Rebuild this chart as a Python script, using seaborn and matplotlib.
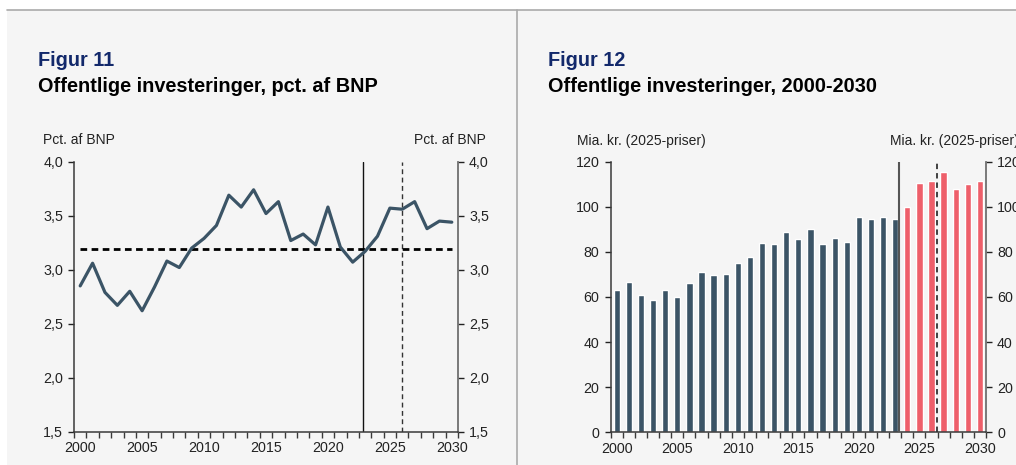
import numpy as np
import pandas as pd
import seaborn as sns
import matplotlib
matplotlib.use('Agg')
import matplotlib.pyplot as plt
from matplotlib.ticker import FixedLocator, FuncFormatter, NullLocator
from matplotlib.patches import Rectangle
from matplotlib.lines import Line2D

# --- data ---
years = list(range(2000, 2031))
share_of_gdp = [2.85, 3.06, 2.79, 2.67, 2.80, 2.62, 2.84, 3.08, 3.02, 3.20,
                3.29, 3.41, 3.69, 3.58, 3.74, 3.52, 3.63, 3.27, 3.33, 3.23,
                3.58, 3.21, 3.07, 3.17, 3.31, 3.57, 3.56, 3.63, 3.38, 3.45,
                3.44]
avg_share = 3.19
invest_bn = [62.9, 66.6, 60.9, 58.8, 63.1, 59.8, 66.1, 71.2, 69.6, 70.2,
             74.9, 77.7, 84.1, 83.5, 88.8, 85.7, 90.1, 83.5, 86.3, 84.5,
             95.5, 94.6, 95.5, 94.6, 99.9, 110.7, 111.4, 115.4, 107.9, 110.1,
             111.4]
period = ['hist'] * 24 + ['prog'] * 7
x_labels = [2000, 2005, 2010, 2015, 2020, 2025, 2030]

NAVY = '#13296b'
SLATE = '#3b5466'
RED = '#ee5f6a'
BG = '#f5f5f5'

sns.set_theme(style='white')
plt.rcParams['font.family'] = ['Liberation Sans', 'DejaVu Sans']
plt.rcParams['axes.facecolor'] = BG

W, H = 1016, 465
fig = plt.figure(figsize=(W / 100, H / 100), dpi=100, facecolor='white')


def fx(px):
    return px / W


def fy(py):
    return 1 - py / H


# panel background and frame lines (behind the axes)
fig.add_artist(Rectangle((fx(7), 0), 1 - fx(7), fy(10.3), transform=fig.transFigure,
                         facecolor=BG, edgecolor='none', zorder=-10))
fig.add_artist(Line2D([fx(7), 1], [fy(10.3), fy(10.3)], transform=fig.transFigure,
                      color='#aaaaaa', lw=1.2, zorder=-5))
fig.add_artist(Line2D([fx(517.3), fx(517.3)], [0, fy(10.3)], transform=fig.transFigure,
                      color='#aaaaaa', lw=1.2, zorder=-5))


def style_axis(ax, ylim, yticks, fmt):
    ax.set_facecolor(BG)
    ax.set_xlim(1999.5, 2030.5)
    ax.set_ylim(*ylim)
    ax.xaxis.set_major_locator(FixedLocator(x_labels))
    ax.xaxis.set_minor_locator(FixedLocator(np.arange(1999.5, 2031, 1.0)))
    ax.yaxis.set_major_locator(FixedLocator(yticks))
    ax.yaxis.set_minor_locator(NullLocator())
    ax.yaxis.set_major_formatter(FuncFormatter(fmt))
    ax.set_xlabel('')
    ax.set_ylabel('')
    ax.spines['top'].set_visible(False)
    for s in ['left', 'bottom']:
        ax.spines[s].set_color('#3a3a3a')
        ax.spines[s].set_linewidth(1.1)
    ax.spines['right'].set_color('#707070')
    ax.spines['right'].set_linewidth(1.3)
    ax.tick_params(axis='x', which='major', length=0, pad=7, labelsize=10.3, colors='#222222')
    ax.tick_params(axis='x', which='minor', length=4.5, width=1, color='#3a3a3a', bottom=True)
    ax.tick_params(axis='y', which='major', length=4, width=1, left=True, right=True,
                   labelleft=True, labelright=True, labelsize=10.3, colors='#222222', pad=4)
    for t in ax.yaxis.get_major_ticks():
        t.tick1line.set_color('#3a3a3a')
        t.tick2line.set_color('#707070')
    ax.xaxis.set_major_formatter(FuncFormatter(lambda v, p: f'{int(round(v))}'))


# --- Figur 11 ---
ax1 = fig.add_axes([fx(74), fy(431.7), fx(384), 270 / H])
df1 = pd.DataFrame({'year': years, 'share': share_of_gdp})
sns.lineplot(data=df1, x='year', y='share', ax=ax1, color=SLATE, lw=2.3, zorder=3)
ax1.hlines(avg_share, 2000, 2030, colors='black', lw=2.0, linestyles=(0, (2.4, 1.6)), zorder=2)
ax1.axvline(2022.85, color='#111111', lw=1.0, zorder=1)
ax1.axvline(2026.0, color='#333333', lw=1.0, ls=(0, (3.5, 2.5)), zorder=1)
style_axis(ax1, (1.5, 4.0), [1.5, 2.0, 2.5, 3.0, 3.5, 4.0],
           lambda v, p: f'{v:.1f}'.replace('.', ','))

# --- Figur 12 ---
ax2 = fig.add_axes([fx(610.7), fy(432.3), fx(375.3), 270.6 / H])
df2 = pd.DataFrame({'year': years, 'bn': invest_bn, 'period': period})
sns.barplot(data=df2, x='year', y='bn', hue='period', palette={'hist': SLATE, 'prog': RED},
            native_scale=True, dodge=False, width=0.52, saturation=1, legend=False,
            ax=ax2, zorder=2)
ax2.axvline(2023.35, color='#555555', lw=1.5, zorder=3)
ax2.axvline(2026.47, color='#333333', lw=1.3, ls=(0, (3, 2.2)), zorder=3)
style_axis(ax2, (0, 120), [0, 20, 40, 60, 80, 100, 120], lambda v, p: f'{int(v)}')

# --- titles and unit labels ---
title_kw = dict(fontsize=14.3, fontweight='bold', va='baseline')
fig.text(fx(38), fy(66), 'Figur 11', color=NAVY, **title_kw)
fig.text(fx(38), fy(92), 'Offentlige investeringer, pct. af BNP', color='black', **title_kw)
fig.text(fx(548), fy(66), 'Figur 12', color=NAVY, **title_kw)
fig.text(fx(548), fy(92), 'Offentlige investeringer, 2000-2030', color='black', **title_kw)

unit_kw = dict(fontsize=10, color='#222222', va='center')
fig.text(fx(43), fy(140.5), 'Pct. af BNP', ha='left', **unit_kw)
fig.text(fx(486), fy(140.5), 'Pct. af BNP', ha='right', **unit_kw)
fig.text(fx(576.7), fy(140.5), 'Mia. kr. (2025-priser)', ha='left', **unit_kw)
fig.text(fx(890), fy(140.5), 'Mia. kr. (2025-priser)', ha='left', **unit_kw)

fig.savefig('out.png', dpi=100, facecolor='white')
